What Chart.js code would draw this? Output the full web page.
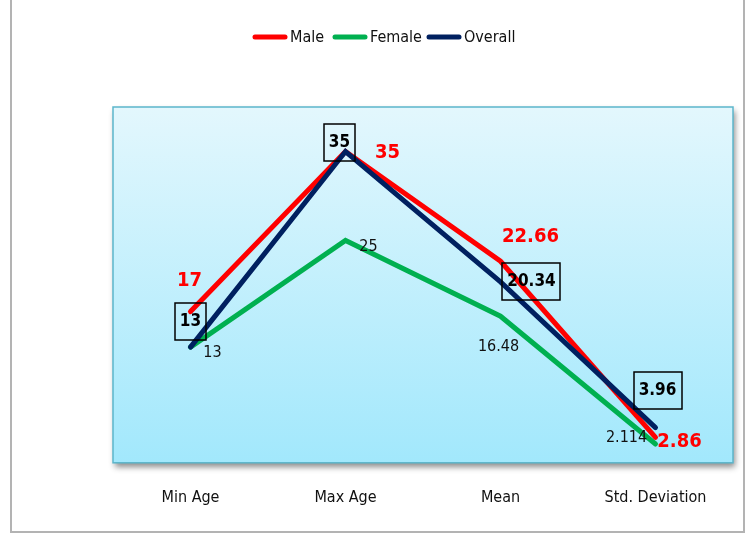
<!DOCTYPE html>
<html>
<head>
<meta charset="utf-8">
<script src="https://cdn.jsdelivr.net/npm/chart.js@4/dist/chart.umd.min.js"></script>
<style>
  body { margin: 0; background: #fff; }
  #wrap { position: relative; width: 747px; height: 535px; }
</style>
</head>
<body>
<div id="wrap"><canvas id="chart" width="747" height="535"></canvas></div>
<script>
var categories = ['Min Age', 'Max Age', 'Mean', 'Std. Deviation'];
var maleValues = [17, 35, 22.66, 2.86];
var femaleValues = [13, 25, 16.48, 2.114];
var overallValues = [13, 35, 20.34, 3.96];
var seriesNames = ['Male', 'Female', 'Overall'];

var FONT = "'Liberation Sans Narrow', 'Arial Narrow', 'DejaVu Sans Condensed', sans-serif";

// where each data label sits relative to its point (styling only)
var labelStyle = [
    { color: '#ff0000', font: 'bold 20px ' + FONT, box: false,
      offsets: [[-1, -31], [42, 1], [30, -24], [24, 4]] },
    { color: '#111111', font: '16px ' + FONT, box: false,
      offsets: [[22, 6], [23, 6], [-2, 31], [-29, -6]] },
    { color: '#000000', font: 'bold 17px ' + FONT, box: true,
      offsets: [[0, -26], [-6, -9], [31, 0], [2, -37]] }
];

var colors = ['#ff0000', '#00b050', '#002060'];

var decorPlugin = {
    id: 'decor',
    beforeDraw: function(chart) {
        var ctx = chart.ctx, a = chart.chartArea;
        ctx.save();
        // outer frame
        ctx.strokeStyle = '#b3b3b3';
        ctx.lineWidth = 2;
        ctx.strokeRect(11, -5, 733, 537);
        // plot area with shadow and gradient
        ctx.shadowColor = 'rgba(0,0,0,0.45)';
        ctx.shadowBlur = 6;
        ctx.shadowOffsetX = 2;
        ctx.shadowOffsetY = 4;
        var g = ctx.createLinearGradient(0, a.top, 0, a.bottom);
        g.addColorStop(0, '#e3f7fd');
        g.addColorStop(1, '#a2e8fc');
        ctx.fillStyle = g;
        ctx.fillRect(a.left, a.top, a.right - a.left, a.bottom - a.top);
        ctx.shadowColor = 'transparent';
        ctx.strokeStyle = '#5cb6cb';
        ctx.lineWidth = 1.5;
        ctx.strokeRect(a.left, a.top, a.right - a.left, a.bottom - a.top);
        ctx.restore();
    },
    afterDatasetsDraw: function(chart) {
        var ctx = chart.ctx;
        ctx.save();
        ctx.textAlign = 'center';
        ctx.textBaseline = 'middle';
        chart.data.datasets.forEach(function(ds, di) {
            var meta = chart.getDatasetMeta(di);
            var st = labelStyle[di];
            ctx.font = st.font;
            ctx.fillStyle = st.color;
            meta.data.forEach(function(pt, i) {
                var x = pt.x + st.offsets[i][0];
                var y = pt.y + st.offsets[i][1];
                var txt = String(ds.data[i]);
                if (st.box) {
                    var w = ctx.measureText(txt).width + 10;
                    var h = 37;
                    ctx.strokeStyle = '#000';
                    ctx.lineWidth = 1.5;
                    ctx.strokeRect(Math.round(x - w / 2), Math.round(y - h / 2), Math.round(w), h);
                }
                ctx.fillText(txt, x, y);
            });
        });
        ctx.restore();
    },
    afterDraw: function(chart) {
        // legend
        var ctx = chart.ctx;
        var starts = [253, 333, 427];
        ctx.save();
        ctx.font = '16px ' + FONT;
        ctx.textBaseline = 'middle';
        ctx.textAlign = 'left';
        seriesNames.forEach(function(name, i) {
            ctx.strokeStyle = colors[i];
            ctx.lineWidth = 5;
            ctx.lineCap = 'round';
            ctx.beginPath();
            ctx.moveTo(starts[i] + 2, 37);
            ctx.lineTo(starts[i] + 32, 37);
            ctx.stroke();
            ctx.fillStyle = '#111';
            ctx.fillText(name, starts[i] + 37, 38);
        });
        ctx.restore();
    }
};

var ctx = document.getElementById('chart').getContext('2d');
var chart = new Chart(ctx, {
    type: 'line',
    data: {
        labels: categories,
        datasets: [
            { label: seriesNames[0], data: maleValues, borderColor: colors[0], order: 1 },
            { label: seriesNames[1], data: femaleValues, borderColor: colors[1], order: 2 },
            { label: seriesNames[2], data: overallValues, borderColor: colors[2], order: 0 }
        ]
    },
    options: {
        responsive: false,
        animation: false,
        layout: { padding: { left: 113, right: 14, top: 107, bottom: 11 } },
        elements: {
            line: { borderWidth: 5, tension: 0, fill: false, borderCapStyle: 'round' },
            point: { radius: 0, hoverRadius: 0 }
        },
        plugins: { legend: { display: false }, tooltip: { enabled: false } },
        scales: {
            y: { display: false, min: 0, max: 40 },
            x: {
                offset: true,
                grid: { display: false },
                border: { display: false },
                ticks: { color: '#111', font: { size: 16, family: FONT }, padding: 17 }
            }
        }
    },
    plugins: [decorPlugin]
});
</script>
</body>
</html>
